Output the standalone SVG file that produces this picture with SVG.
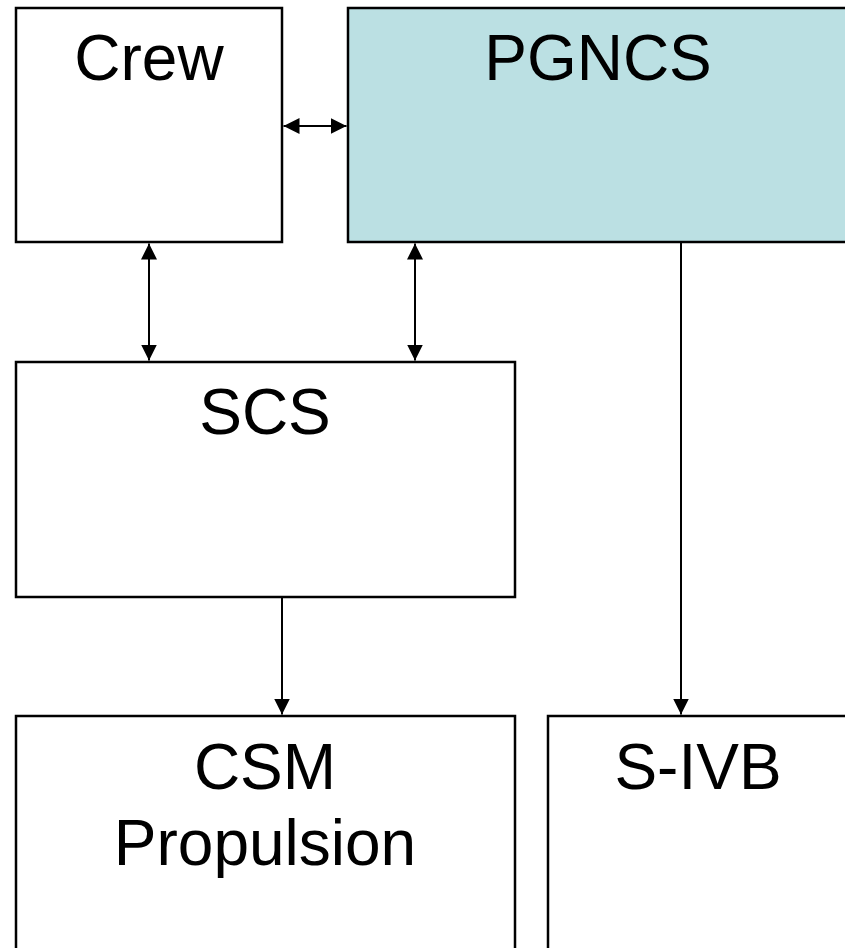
<svg xmlns="http://www.w3.org/2000/svg" width="845" height="948" viewBox="0 0 845 948">
<style>
.box{fill:#FFFFFF;stroke:#000000;stroke-width:2.5}
.hl{fill:#BBE0E3}
.lbl{font-family:"Liberation Sans",Arial,sans-serif;font-size:64px;fill:#000000;text-anchor:middle}
.con{stroke:#000000;stroke-width:2;fill:none}
</style>
<defs>
<marker id="ah" viewBox="0 0 10 10" refX="10" refY="5" markerWidth="16" markerHeight="16" markerUnits="userSpaceOnUse" orient="auto-start-reverse">
<path d="M0,0 L10,5 L0,10 Z" fill="#000000"/>
</marker>
</defs>
<rect width="845" height="948" fill="#FFFFFF"/>
<g id="crew"><rect class="box" x="16" y="8" width="266" height="234"/><text class="lbl" x="149" y="80">Crew</text></g>
<g id="pgncs"><rect class="box hl" x="348" y="8" width="502" height="234"/><text class="lbl" x="598" y="80">PGNCS</text></g>
<g id="scs"><rect class="box" x="16" y="362" width="499" height="235"/><text class="lbl" x="265" y="434">SCS</text></g>
<g id="csm"><rect class="box" x="16" y="716" width="499" height="250"/><text class="lbl" x="265" y="789">CSM</text><text class="lbl" x="265" y="865">Propulsion</text></g>
<g id="sivb"><rect class="box" x="548" y="716" width="302" height="250"/><text class="lbl" x="698" y="789">S-IVB</text></g>
<g id="connectors">
<line class="con" x1="283.5" y1="126" x2="346.5" y2="126" marker-start="url(#ah)" marker-end="url(#ah)"/>
<line class="con" x1="149" y1="243.5" x2="149" y2="360.5" marker-start="url(#ah)" marker-end="url(#ah)"/>
<line class="con" x1="415" y1="243.5" x2="415" y2="360.5" marker-start="url(#ah)" marker-end="url(#ah)"/>
<line class="con" x1="282" y1="598" x2="282" y2="714.5" marker-end="url(#ah)"/>
<line class="con" x1="681" y1="243" x2="681" y2="714.5" marker-end="url(#ah)"/>
</g>
</svg>
